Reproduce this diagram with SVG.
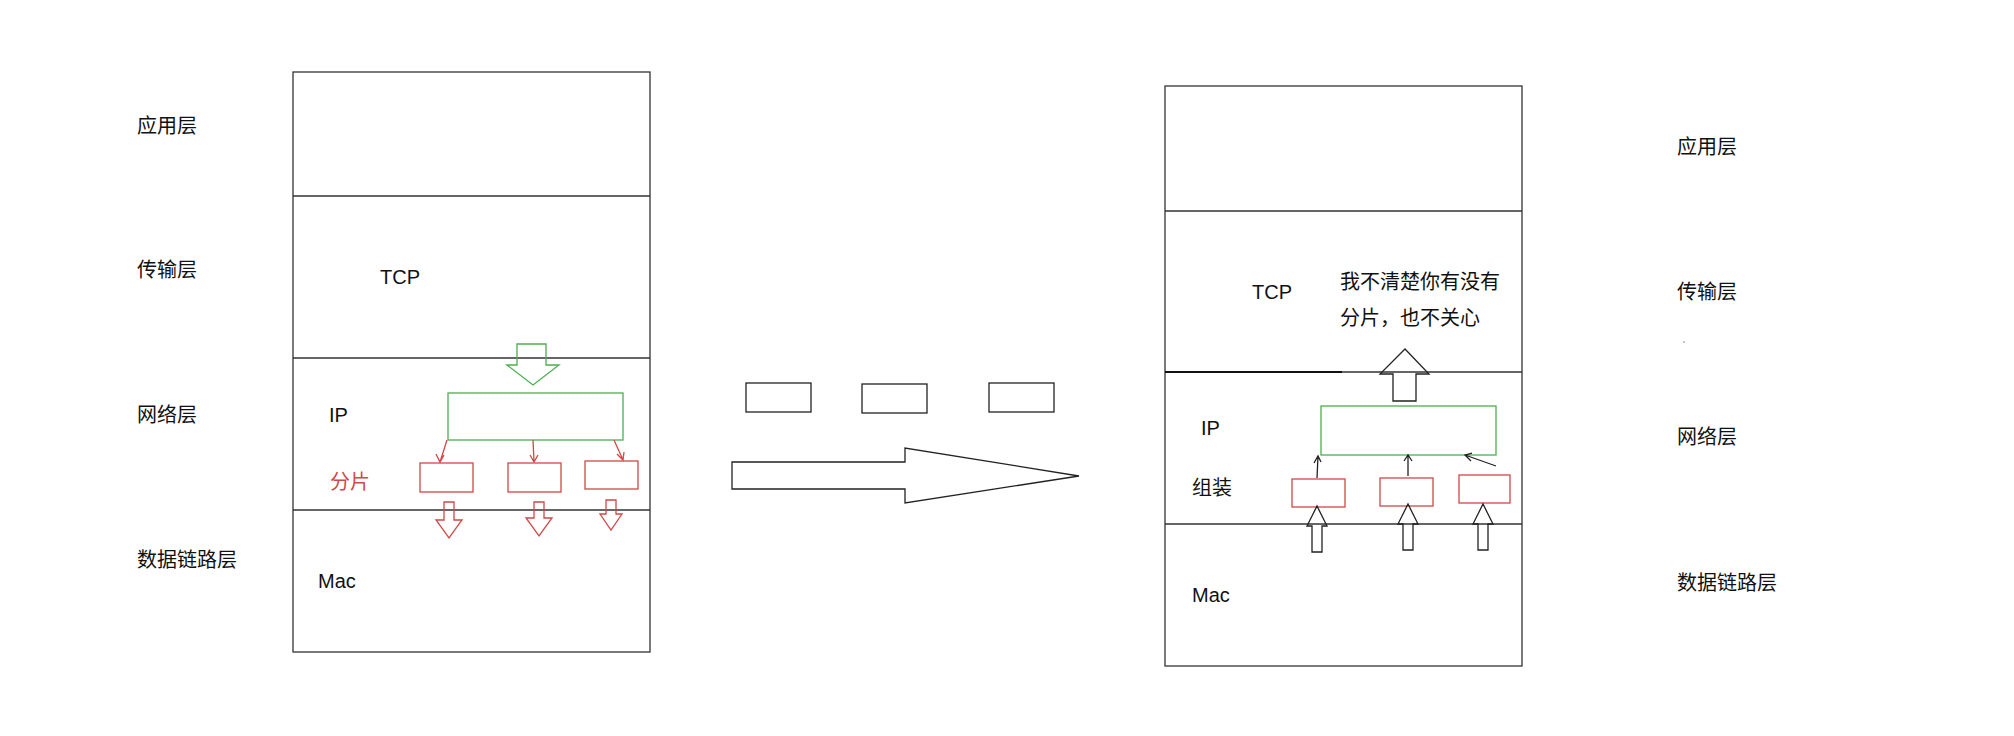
<svg xmlns="http://www.w3.org/2000/svg" width="2014" height="736" viewBox="0 0 2014 736">
<style>
text{font-family:"Liberation Sans","Noto Sans CJK SC",sans-serif;font-size:20px;fill:#111;dominant-baseline:middle}
.lay{fill:none;stroke:#333;stroke-width:1.3}
.g{fill:none;stroke:#4caf50;stroke-width:1.3}
.r{fill:none;stroke:#d04848;stroke-width:1.3}
.k{fill:none;stroke:#222;stroke-width:1.3}
.red{fill:#d04848}
</style>
<rect width="2014" height="736" fill="#fff"/>
<g id="left-stack">
<rect class="lay" x="293" y="72" width="357" height="580"/>
<line class="lay" x1="293" y1="196" x2="650" y2="196"/>
<line class="lay" x1="293" y1="358" x2="650" y2="358"/>
<line class="lay" x1="293" y1="510" x2="650" y2="510"/>
<text x="137" y="128">应用层</text><text x="137" y="272">传输层</text><text x="137" y="417">网络层</text><text x="137" y="562">数据链路层</text>
<text x="380" y="279">TCP</text><text x="329" y="417">IP</text><text class="red" x="330" y="484">分片</text><text x="318" y="583">Mac</text>
</g>
<g id="left-ip">
<path class="g" d="M517 344H546V365H559L533 385L507 365H517Z"/>
<rect class="g" x="448" y="393" width="175" height="47"/>
<rect class="r" x="420" y="463" width="53" height="29"/>
<rect class="r" x="508" y="463" width="53" height="29"/>
<rect class="r" x="585" y="461" width="53" height="28"/>
<path class="r" d="M447 440L440 462M436 454L440 462L444 455M533 440L534 462M530 455L534 462L538 455M614 440L623 460M617 454L623 460L624 452"/>
<path class="r" d="M444 502H454V520H462L449 538L436 520H444Z"/>
<path class="r" d="M534 502H544V518H552L539 536L526 518H534Z"/>
<path class="r" d="M606 500H616V514H622L611 530L600 514H606Z"/>
</g>
<g id="transit">
<rect class="k" x="746" y="383" width="65" height="29"/>
<rect class="k" x="862" y="384" width="65" height="29"/>
<rect class="k" x="989" y="383" width="65" height="29"/>
<path class="k" d="M732 462H905V448L1079 476L905 503V489H732Z"/>
</g>
<g id="right-stack">
<rect class="lay" x="1165" y="86" width="357" height="580"/>
<line class="lay" x1="1165" y1="211" x2="1522" y2="211"/>
<line class="lay" x1="1165" y1="372" x2="1522" y2="372"/>
<line x1="1165" y1="372" x2="1342" y2="372" stroke="#111" stroke-width="2.2"/>
<line class="lay" x1="1165" y1="524" x2="1522" y2="524"/>
<text x="1677" y="149">应用层</text><text x="1677" y="294">传输层</text><text x="1677" y="439">网络层</text><text x="1677" y="585">数据链路层</text>
<circle cx="1684" cy="342" r="0.8" fill="#777"/>
<text x="1252" y="294">TCP</text>
<text x="1340" y="284">我不清楚你有没有</text><text x="1340" y="320">分片，也不关心</text>
<text x="1201" y="430">IP</text><text x="1192" y="490">组装</text><text x="1192" y="597">Mac</text>
</g>
<g id="right-ip">
<path class="k" d="M1393 401V374H1380L1405 349L1429 374H1416V401Z"/>
<rect class="g" x="1321" y="406" width="175" height="49"/>
<rect class="r" x="1292" y="479" width="53" height="28"/>
<rect class="r" x="1380" y="478" width="53" height="28"/>
<rect class="r" x="1459" y="475" width="51" height="28"/>
<path class="k" d="M1317 478L1318 456M1314 463L1318 456L1321 462M1408 476V455M1404 461L1408 455L1412 461M1496 466L1465 455M1471 461L1465 455L1472 453"/>
<path class="k" d="M1312 552V526H1307L1317 506L1327 526H1322V552Z"/>
<path class="k" d="M1403 550V524H1398L1408 504L1418 524H1413V550Z"/>
<path class="k" d="M1478 550V524H1473L1483 504L1493 524H1488V550Z"/>
</g>
</svg>
